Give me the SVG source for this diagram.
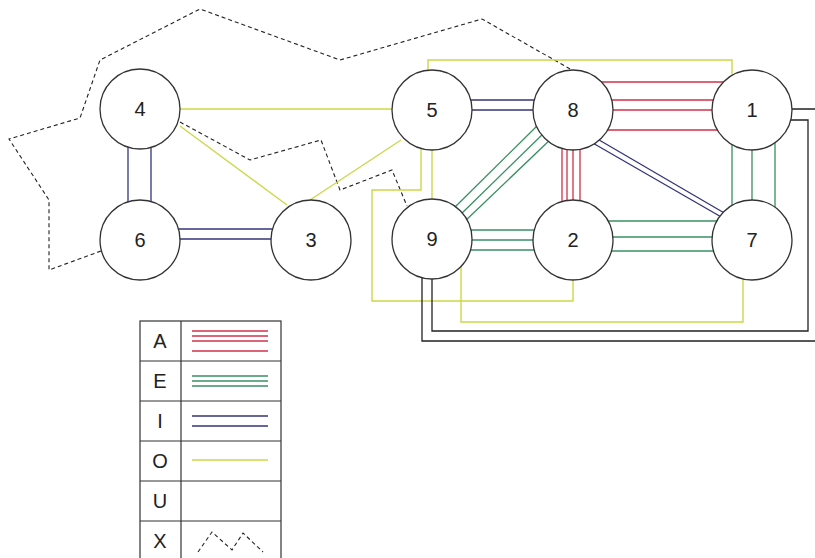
<svg xmlns="http://www.w3.org/2000/svg" width="815" height="558" viewBox="0 0 815 558">
<style>
.c{fill:#fff;stroke:#333;stroke-width:1.3}
.t{font-family:"Liberation Sans",Arial,sans-serif;font-size:20px;fill:#222;text-anchor:middle}
.a{stroke:#d03048;stroke-width:1.3;fill:none}
.e{stroke:#3a8f62;stroke-width:1.3;fill:none}
.i{stroke:#33337a;stroke-width:1.3;fill:none}
.o{stroke:#ccd84a;stroke-width:1.4;fill:none}
.u{stroke:#222;stroke-width:1.3;fill:none}
.x{stroke:#222;stroke-width:1.1;fill:none;stroke-dasharray:4,3}
.g{stroke:#333;stroke-width:1.2;fill:none}
</style>
<rect width="815" height="558" fill="#fff"/>
<g id="connectors">
  <polyline class="x" points="101,251 49,270 49,200 9,139 80,118 100,60 200,9 340,60 482,19 572,70"/>
  <polyline class="x" points="180,122 250,160 321,140 340,190 392,170 407,206"/>
  <line class="o" x1="140" y1="109" x2="432" y2="109"/>
  <line class="o" x1="180" y1="126" x2="287" y2="205"/>
  <line class="o" x1="310" y1="200" x2="401" y2="140"/>
  <polyline class="o" points="428,110 428,60 732,60 732,110"/>
  <polyline class="o" points="421,110 421,190 372,190 372,301 573,301 573,240"/>
  <line class="o" x1="432" y1="110" x2="432" y2="239"/>
  <polyline class="o" points="461,239 461,322 743,322 743,240"/>
  <polyline class="u" points="752,109 830,109 830,341 422,341 422,239"/>
  <polyline class="u" points="752,120 808,120 808,331 432,331 432,239"/>
  <line class="i" x1="128" y1="109" x2="128" y2="240"/>
  <line class="i" x1="151" y1="109" x2="151" y2="240"/>
  <line class="i" x1="140" y1="229" x2="311" y2="229"/>
  <line class="i" x1="140" y1="239" x2="311" y2="239"/>
  <line class="i" x1="432" y1="100" x2="573" y2="100"/>
  <line class="i" x1="432" y1="110" x2="573" y2="110"/>
  <line class="i" x1="594" y1="137" x2="726" y2="214"/>
  <line class="i" x1="591" y1="142" x2="723" y2="218"/>
  <line class="a" x1="573" y1="82" x2="752" y2="82"/>
  <line class="a" x1="573" y1="100" x2="752" y2="100"/>
  <line class="a" x1="573" y1="110" x2="752" y2="110"/>
  <line class="a" x1="573" y1="130" x2="752" y2="130"/>
  <line class="a" x1="562" y1="110" x2="562" y2="240"/>
  <line class="a" x1="567" y1="110" x2="567" y2="240"/>
  <line class="a" x1="573" y1="110" x2="573" y2="240"/>
  <line class="a" x1="580" y1="110" x2="580" y2="240"/>
  <line class="e" x1="732" y1="110" x2="732" y2="240"/>
  <line class="e" x1="752" y1="110" x2="752" y2="240"/>
  <line class="e" x1="775" y1="110" x2="775" y2="240"/>
  <line class="e" x1="540" y1="123" x2="452" y2="210"/>
  <line class="e" x1="547" y1="130" x2="457" y2="218"/>
  <line class="e" x1="553" y1="137" x2="463" y2="223"/>
  <line class="e" x1="432" y1="230" x2="573" y2="230"/>
  <line class="e" x1="432" y1="240" x2="573" y2="240"/>
  <line class="e" x1="432" y1="250" x2="573" y2="250"/>
  <line class="e" x1="573" y1="221" x2="752" y2="221"/>
  <line class="e" x1="573" y1="237" x2="752" y2="237"/>
  <line class="e" x1="573" y1="251" x2="752" y2="251"/>
</g>
<g id="n4"><circle class="c" cx="140" cy="109" r="40"/><text class="t" x="140" y="116">4</text></g>
<g id="n6"><circle class="c" cx="140" cy="240" r="40"/><text class="t" x="140" y="247">6</text></g>
<g id="n3"><circle class="c" cx="311" cy="240" r="40"/><text class="t" x="311" y="247">3</text></g>
<g id="n5"><circle class="c" cx="432" cy="110" r="40"/><text class="t" x="432" y="117">5</text></g>
<g id="n8"><circle class="c" cx="573" cy="110" r="40"/><text class="t" x="573" y="117">8</text></g>
<g id="n1"><circle class="c" cx="752" cy="110" r="40"/><text class="t" x="752" y="117">1</text></g>
<g id="n9"><circle class="c" cx="432" cy="239" r="40"/><text class="t" x="432" y="246">9</text></g>
<g id="n2"><circle class="c" cx="573" cy="240" r="40"/><text class="t" x="573" y="247">2</text></g>
<g id="n7"><circle class="c" cx="752" cy="240" r="40"/><text class="t" x="752" y="247">7</text></g>
<g id="legend">
  <rect class="g" x="140" y="321" width="141" height="245"/>
  <line class="g" x1="181" y1="321" x2="181" y2="566"/>
  <line class="g" x1="140" y1="361" x2="281" y2="361"/>
  <line class="g" x1="140" y1="401" x2="281" y2="401"/>
  <line class="g" x1="140" y1="441" x2="281" y2="441"/>
  <line class="g" x1="140" y1="481" x2="281" y2="481"/>
  <line class="g" x1="140" y1="521" x2="281" y2="521"/>
  <text class="t" x="160" y="348">A</text>
  <text class="t" x="160" y="388">E</text>
  <text class="t" x="160" y="428">I</text>
  <text class="t" x="160" y="468">O</text>
  <text class="t" x="160" y="508">U</text>
  <text class="t" x="160" y="548">X</text>
  <line class="a" x1="192" y1="331" x2="268" y2="331"/>
  <line class="a" x1="192" y1="336" x2="268" y2="336"/>
  <line class="a" x1="192" y1="341" x2="268" y2="341"/>
  <line class="a" x1="192" y1="351" x2="268" y2="351"/>
  <line class="e" x1="192" y1="376" x2="268" y2="376"/>
  <line class="e" x1="192" y1="381" x2="268" y2="381"/>
  <line class="e" x1="192" y1="386" x2="268" y2="386"/>
  <line class="i" x1="192" y1="416" x2="268" y2="416"/>
  <line class="i" x1="192" y1="426" x2="268" y2="426"/>
  <line class="o" x1="192" y1="460" x2="268" y2="460"/>
  <polyline class="x" points="198,552 212,532 232,550 243,533 263,552"/>
</g>
</svg>
